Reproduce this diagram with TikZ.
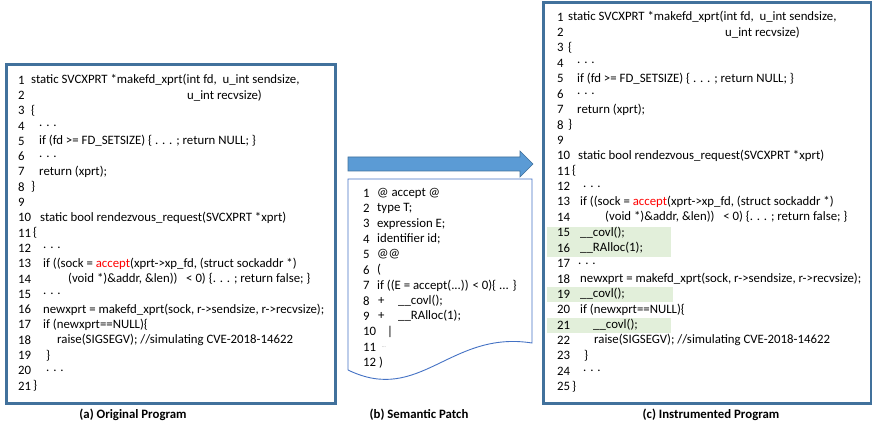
\documentclass[tikz,border=0pt]{standalone}
\usepackage{fontspec}
\setmainfont{Carlito}
\definecolor{boxblue}{RGB}{65,113,156}
\definecolor{arrowfill}{RGB}{91,155,213}
\definecolor{docblue}{RGB}{68,114,196}
\definecolor{hlgreen}{RGB}{226,239,218}

\begin{document}
\begin{tikzpicture}[x=1pt,y=-1pt,
    code/.style={anchor=west,inner sep=0pt,font=\fontsize{12.8}{14}\selectfont},
    caption/.style={inner sep=0pt,font=\fontsize{12.8}{14}\selectfont\bfseries},
    frame/.style={draw=boxblue,line width=3pt},
    hl/.style={fill=hlgreen}]
  \useasboundingbox (0,0) rectangle (872,427);

  % (a) original program
  \draw[frame] (6,65) rectangle (335,403);
  \foreach \n in {1,...,21}
    \node[code] (an\n) at (18,{80+(\n-1)*15.3}) {\n};
  \foreach \n/\x/\t in {
      1/31/{static SVCXPRT *makefd\_xprt(int fd,\ \ u\_int sendsize,},
      2/187/{u\_int recvsize)},
      3/31/{\{},
      4/39/{. . .},
      5/39/{if (fd >= FD\_SETSIZE) \{ . . . ; return NULL; \}},
      6/39/{. . .},
      7/39/{return (xprt);},
      8/31/{\}},
      10/40/{static bool rendezvous\_request(SVCXPRT *xprt)},
      11/33/{\{},
      12/43/{. . .},
      13/43/{if ((sock = \textcolor{red}{accept}(xprt->xp\_fd, (struct sockaddr *)},
      14/68/{(void *)\&addr, \&len))\ \ \ < 0) \{. . . ; return false; \}},
      15/43/{. . .},
      16/43/{newxprt = makefd\_xprt(sock, r->sendsize, r->recvsize);},
      17/43/{if (newxprt==NULL)\{},
      18/57/{raise(SIGSEGV); //simulating CVE-2018-14622},
      19/46/{\}},
      20/46/{. . .},
      21/33/{\}}}
    \node[code] (a\n) at (\x,{80+(\n-1)*15.3}) {\t};
  \node[caption] (capa) at (133,415) {(a) Original Program};

  % (b) semantic patch
  \draw[draw=boxblue,fill=arrowfill,line width=0.6pt]
    (348,157) -- (520,157) -- (520,151) -- (533,164) -- (520,177)
    -- (520,171) -- (348,171) -- cycle;
  \draw[docblue,line width=0.9pt] (348,370) -- (348,179) -- (532,179) -- (532,343)
    .. controls (450,330) and (420,405) .. (348,370);
  \foreach \n in {1,...,12}
    \node[code] (bn\n) at (363,{193+(\n-1)*15.4}) {\n};
  \foreach \n/\x/\t in {
      1/377/{@ accept @},
      2/377/{type T;},
      3/377/{expression E;},
      4/377/{identifier id;},
      5/377/{@@},
      6/377/{(},
      7/377/{if ((E = accept(...)) < 0)\{ ... \}},
      8/378/{\makebox[20pt][l]{+}\_\_covl();},
      9/378/{\makebox[20pt][l]{+}\_\_RAlloc(1);},
      10/387/{|},
      11/382/{\textcolor{gray}{\tiny ...}},
      12/379/{)}}
    \node[code] (b\n) at (\x,{193+(\n-1)*15.4}) {\t};
  \node[caption] (capb) at (419,415) {(b) Semantic Patch};

  % (c) instrumented program
  \draw[frame] (543,3) rectangle (871,403);
  \fill[hl] (547,227) rectangle (671,257);
  \fill[hl] (547,287) rectangle (673,302);
  \fill[hl] (547,318) rectangle (671,333);
  \foreach \n in {1,...,25}
    \node[code] (cn\n) at (557,{17+(\n-1)*15.4}) {\n};
  \foreach \n/\x/\t in {
      1/568/{static SVCXPRT *makefd\_xprt(int fd,\ \ u\_int sendsize,},
      2/725/{u\_int recvsize)},
      3/568/{\{},
      4/577/{. . .},
      5/577/{if (fd >= FD\_SETSIZE) \{ . . . ; return NULL; \}},
      6/577/{. . .},
      7/577/{return (xprt);},
      8/568/{\}},
      10/578/{static bool rendezvous\_request(SVCXPRT *xprt)},
      11/572/{\{},
      12/583/{. . .},
      13/580/{if ((sock = \textcolor{red}{accept}(xprt->xp\_fd, (struct sockaddr *)},
      14/605/{(void *)\&addr, \&len))\ \ \ < 0) \{. . . ; return false; \}},
      15/580/{\_\_covl();},
      16/580/{\_\_RAlloc(1);},
      17/578/{. . .},
      18/580/{newxprt = makefd\_xprt(sock, r->sendsize, r->recvsize);},
      19/580/{\_\_covl();},
      20/580/{if (newxprt==NULL)\{},
      21/593/{\_\_covl();},
      22/594/{raise(SIGSEGV); //simulating CVE-2018-14622},
      23/584/{\}},
      24/583/{. . .},
      25/572/{\}}}
    \node[code] (c\n) at (\x,{17+(\n-1)*15.4}) {\t};
  \node[caption] (capc) at (711,415) {(c) Instrumented Program};
\end{tikzpicture}
\end{document}
